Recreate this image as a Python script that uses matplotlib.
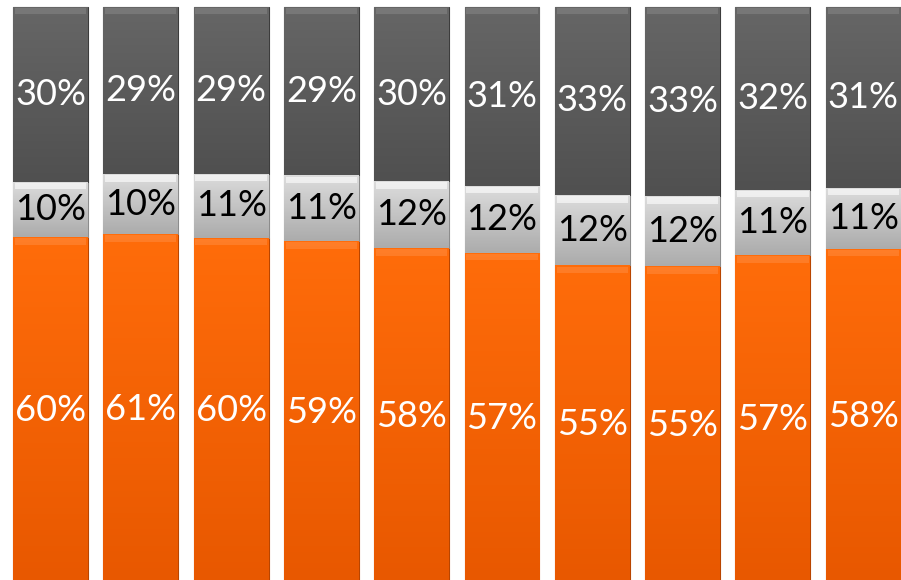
import matplotlib
matplotlib.use("Agg")
import matplotlib.pyplot as plt
import numpy as np

# valores estimados (%) por barra: naranja abajo, gris claro en medio, gris oscuro arriba
naranja = [60.1, 60.6, 60.0, 59.4, 58.2, 57.4, 55.2, 55.1, 57.0, 58.1]
gris_claro = [9.6, 10.4, 11.1, 11.4, 11.6, 11.6, 12.2, 12.1, 11.3, 10.6]
gris_oscuro = [30.3, 29.0, 28.9, 29.2, 30.2, 31.0, 32.6, 32.8, 31.7, 31.3]

etiq_naranja = ["60%", "61%", "60%", "59%", "58%", "57%", "55%", "55%", "57%", "58%"]
etiq_claro = ["10%", "10%", "11%", "11%", "12%", "12%", "12%", "12%", "11%", "11%"]
etiq_oscuro = ["30%", "29%", "29%", "29%", "30%", "31%", "33%", "33%", "32%", "31%"]

x = np.arange(len(naranja))
ancho = 0.83

fig = plt.figure(figsize=(9.01, 5.80), dpi=100)
ax = fig.add_axes([0, 0, 1, 1])
ax.set_xlim(-0.559, 9.418)
ax.set_ylim(0.7, 101.2)
ax.axis("off")

capas = [
    (naranja, etiq_naranja, ("#ff6c0a", "#e85800"), "#b84500", "white"),
    (gris_claro, etiq_claro, ("#dcdcdc", "#acacac"), "#8c8c8c", "black"),
    (gris_oscuro, etiq_oscuro, ("#666666", "#505050"), "#3c3c3c", "white"),
]

base = np.zeros(len(x))
for valores, etiquetas, (c_arriba, c_abajo), borde, c_texto in capas:
    valores = np.array(valores)
    barras = ax.bar(x, valores, ancho, bottom=base, color=c_abajo,
                    edgecolor=borde, linewidth=0.8, zorder=2)
    # degradado vertical dentro de cada segmento
    grad = np.linspace(0, 1, 64).reshape(-1, 1)
    cmap = matplotlib.colors.LinearSegmentedColormap.from_list("g", [c_abajo, c_arriba])
    for b in barras:
        x0, y0 = b.get_x(), b.get_y()
        w, h = b.get_width(), b.get_height()
        im = ax.imshow(grad, cmap=cmap, aspect="auto", origin="lower",
                       extent=(x0, x0 + w, y0, y0 + h), zorder=3)
        im.set_clip_path(b)
        # brillo en el borde superior
        ax.fill_between([x0 + 0.02, x0 + w - 0.02], y0 + h - 1.3, y0 + h - 0.2,
                        color="white", alpha=0.6 if c_texto == "black" else 0.12,
                        linewidth=0, zorder=4)
    for xi, yi, v, t in zip(x, base, valores, etiquetas):
        ax.text(xi, yi + v / 2, t, ha="center", va="center", color=c_texto,
                fontsize=26, family="Lato", zorder=5)
    base = base + valores

fig.savefig("out.png", dpi=100, facecolor="white")
